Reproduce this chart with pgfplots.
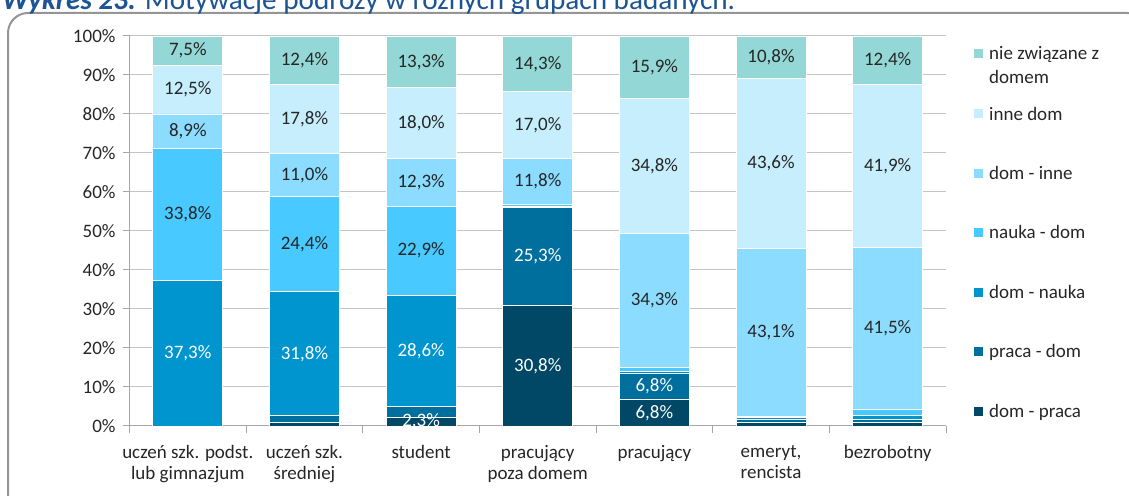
\documentclass[border=0pt]{standalone}
\usepackage{pgfplots}
\pgfplotsset{compat=1.18}
\usepackage{pgfplotstable}
\usepackage{fontspec}
\setmainfont{Carlito}
\definecolor{cnz}{HTML}{93D8D6}
\definecolor{cid}{HTML}{C6EEFC}
\definecolor{cdi}{HTML}{8BDCFF}
\definecolor{cnd}{HTML}{48C9FF}
\definecolor{cdn}{HTML}{0095CE}
\definecolor{cpd}{HTML}{006F9E}
\definecolor{cdp}{HTML}{004866}
\definecolor{gridc}{HTML}{C4C4C4}
\definecolor{axisc}{HTML}{A6A6A6}
\definecolor{framec}{HTML}{959595}
\definecolor{textc}{HTML}{262626}
\definecolor{titlec}{RGB}{28,84,148}
\newcommand\fs{\fontsize{19}{21}\selectfont}
\newcommand\getv{\begingroup\pgfkeys{/pgf/fpu=true,/pgf/fpu/output format=fixed}\pgfmathparse{\pgfplotspointmeta}\global\let\myv\pgfmathresult\endgroup}

\pgfplotstableread{
x dp pd dn nd di id nz
0 0 0 37.3 33.8 8.9 12.5 7.5
1 0.9 1.7 31.8 24.4 11.0 17.8 12.4
2 2.3 2.6 28.6 22.9 12.3 18.0 13.3
3 30.8 25.3 0.3 0.5 11.8 17.0 14.3
4 6.8 6.8 0.5 0.9 34.3 34.8 15.9
5 0.9 0.9 0.3 0.4 43.1 43.6 10.8
6 0.9 0.8 1.0 1.5 41.5 41.9 12.4
}\datatable

\pgfplotsset{
  seg/.style n args={3}{
    fill=#1, draw=white, line width=0.8pt,
    point meta=explicit,
    nodes near coords={\getv\ifdim\myv pt<#3pt\relax\else\pgfmathprintnumber[fixed,fixed zerofill,precision=1,use comma,assume math mode=true]{\myv}\%\fi},
    every node near coord/.append style={anchor=center, font=\fs, text=#2, inner sep=0pt},
  }
}

\begin{document}
\begin{tikzpicture}
\useasboundingbox (0,0) rectangle (1129pt,495pt);
\clip (0,0) rectangle (1129pt,495pt);
\draw[framec, line width=2pt, rounded corners=20pt] (8pt,-20pt) rectangle (1147pt,482pt);
\node[anchor=base west, text=titlec, font=\fontsize{29.2}{30}\selectfont, inner sep=0pt] at (2pt,485pt)
  {\textbf{\textit{Wykres 23.}} Motywacje podróży w różnych grupach badanych.};

\begin{axis}[
  at={(129.5pt,69pt)}, anchor=south west,
  scale only axis, width=816.5pt, height=390pt,
  ybar stacked, bar width=70pt,
  xmin=-0.5, xmax=6.5, ymin=0, ymax=100,
  axis x line*=bottom, axis y line*=left,
  axis line style={draw=axisc, line width=1pt, -},
  tick style={draw=axisc, line width=1pt},
  tick align=outside, major tick length=6.5pt,
  x tick label as interval,
  xtick={-0.5,0.5,...,6.5},
  xticklabels={uczeń szk. podst.\\lub gimnazjum, uczeń szk.\\średniej, student, pracujący\\poza domem, pracujący, {emeryt,\\rencista}, bezrobotny},
  xticklabel style={align=center, font=\fs, text=textc, yshift=-9pt},
  ytick={0,10,...,100},
  yticklabels={0\%,10\%,20\%,30\%,40\%,50\%,60\%,70\%,80\%,90\%,100\%},
  yticklabel style={font=\fs, text=textc, xshift=-4pt},
  ymajorgrids, grid style={draw=gridc, line width=1pt},
]
\addplot[seg={cdp}{white}{2}] table[x=x,y=dp,meta=dp]{\datatable};
\addplot[seg={cpd}{white}{3}] table[x=x,y=pd,meta=pd]{\datatable};
\addplot[seg={cdn}{white}{2}] table[x=x,y=dn,meta=dn]{\datatable};
\addplot[seg={cnd}{textc}{2}] table[x=x,y=nd,meta=nd]{\datatable};
\addplot[seg={cdi}{textc}{2}] table[x=x,y=di,meta=di]{\datatable};
\addplot[seg={cid}{textc}{2}] table[x=x,y=id,meta=id]{\datatable};
\addplot[seg={cnz}{textc}{2}] table[x=x,y=nz,meta=nz]{\datatable};
\end{axis}

% legend
\begin{scope}[every node/.style={anchor=base west, font=\fs, text=textc, inner sep=0pt}]
\fill[cnz] (974pt,436.5pt) rectangle (983pt,445.5pt);
\node at (989pt,435pt) {nie związane z};
\node at (989pt,411pt) {domem};
\fill[cid] (974pt,376.5pt) rectangle (983pt,385.5pt);
\node at (989pt,374pt) {inne dom};
\fill[cdi] (974pt,316.5pt) rectangle (983pt,325.5pt);
\node at (989pt,315pt) {dom - inne};
\fill[cnd] (974pt,257.5pt) rectangle (983pt,266.5pt);
\node at (989pt,256pt) {nauka - dom};
\fill[cdn] (974pt,197.5pt) rectangle (983pt,206.5pt);
\node at (989pt,196pt) {dom - nauka};
\fill[cpd] (974pt,138.5pt) rectangle (983pt,147.5pt);
\node at (989pt,137pt) {praca - dom};
\fill[cdp] (974pt,78.5pt) rectangle (983pt,87.5pt);
\node at (989pt,77pt) {dom - praca};
\end{scope}
\end{tikzpicture}
\end{document}
